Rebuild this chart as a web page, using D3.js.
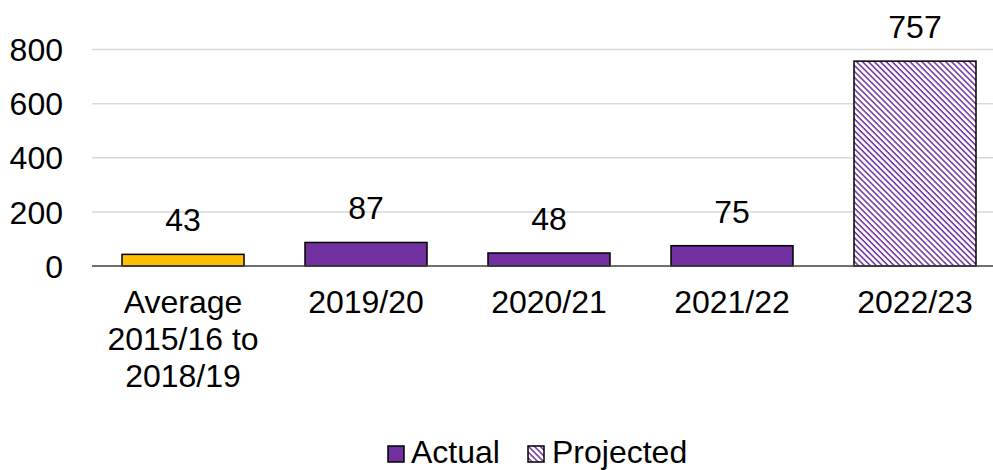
<!DOCTYPE html>
<html><head><meta charset="utf-8">
<script src="https://cdn.jsdelivr.net/npm/d3@7"></script>
<style>body{margin:0;background:#fff}svg{display:block;font-family:"Liberation Sans",Arial,sans-serif}</style>
</head><body><svg id="c" width="993" height="470"></svg>
<script>
const categories = [["Average","2015/16 to","2018/19"],["2019/20"],["2020/21"],["2021/22"],["2022/23"]];
const values = [43, 87, 48, 75, 757];
const kinds = ["average","actual","actual","actual","projected"];
const yTicks = [0, 200, 400, 600, 800];
const legendLabels = ["Actual", "Projected"];

const FS = 32;
const svg = d3.select("#c");
const x = d3.scaleBand().domain(d3.range(values.length)).range([91.5, 1006.5]).paddingInner(1/3).paddingOuter(1/6);
const y = d3.scaleLinear().domain([0, 800]).range([266, 49.5]);

const defs = svg.append("defs");
const P = 4.2;
const pat = defs.append("pattern").attr("id","hatch").attr("patternUnits","userSpaceOnUse")
  .attr("width",P).attr("height",P).attr("patternTransform","rotate(45)");
pat.append("rect").attr("width",P).attr("height",P).attr("fill","#fff");
pat.append("rect").attr("x",0).attr("y",0).attr("width",P).attr("height",1.5).attr("fill","#7030A0");

const yAxis = d3.axisLeft(y).tickValues(yTicks).tickSize(0).tickPadding(0);
const g = svg.append("g").attr("transform","translate(63,0)").call(yAxis);
g.select(".domain").remove();
g.selectAll("text").attr("font-size",FS).attr("fill","#000").attr("font-family","Liberation Sans, Arial, sans-serif").attr("dy","0.35em");
svg.append("g").selectAll("line").data(yTicks.filter(d=>d>0)).join("line")
  .attr("x1",92).attr("x2",993).attr("y1",d=>y(d)).attr("y2",d=>y(d))
  .attr("stroke","#d9d9d9").attr("stroke-width",1.5);

const fill = k => k==="average" ? "#FFC000" : k==="actual" ? "#7030A0" : "url(#hatch)";
svg.append("g").selectAll("rect").data(values).join("rect")
  .attr("x",(d,i)=>x(i)).attr("width",x.bandwidth())
  .attr("y",d=>y(d)).attr("height",d=>y(0)-y(d))
  .attr("fill",(d,i)=>fill(kinds[i])).attr("stroke","#000").attr("stroke-width",1.5);

svg.append("line").attr("x1",92).attr("x2",993).attr("y1",y(0)).attr("y2",y(0)).attr("stroke","#404040").attr("stroke-width",1.5);

svg.append("g").selectAll("text").data(values).join("text")
  .attr("x",(d,i)=>x(i)+x.bandwidth()/2).attr("y",d=>y(d)-23)
  .attr("text-anchor","middle").attr("font-size",FS).text(d=>d);

const xl = svg.append("g").selectAll("text").data(categories).join("text")
  .attr("x",(d,i)=>x(i)+x.bandwidth()/2).attr("y",313).attr("text-anchor","middle").attr("font-size",FS);
xl.selectAll("tspan").data(d=>d).join("tspan")
  .attr("x",function(){return this.parentNode.getAttribute("x");})
  .attr("dy",(d,i)=>i?37:0).text(d=>d);

const lg = svg.append("g");
lg.append("rect").attr("x",388).attr("y",446).attr("width",16).attr("height",16).attr("fill","#7030A0").attr("stroke","#000").attr("stroke-width",1.5);
lg.append("text").attr("x",411).attr("y",463).attr("font-size",FS).text(legendLabels[0]);
lg.append("rect").attr("x",528).attr("y",446).attr("width",16).attr("height",16).attr("fill","url(#hatch)").attr("stroke","#000").attr("stroke-width",1.5);
lg.append("text").attr("x",552).attr("y",463).attr("font-size",FS).text(legendLabels[1]);
</script></body></html>
